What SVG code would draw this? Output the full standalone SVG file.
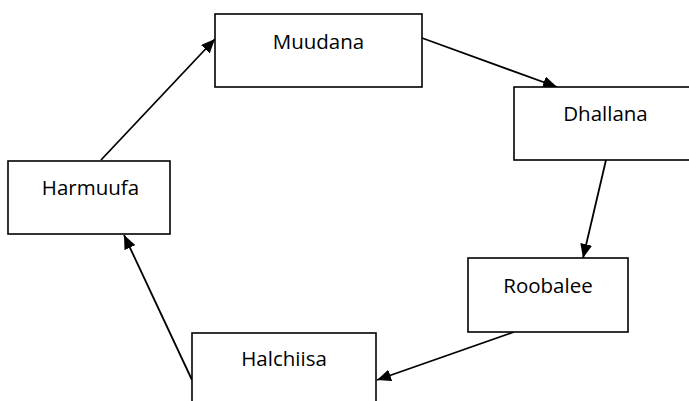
<svg xmlns="http://www.w3.org/2000/svg" width="689" height="401" viewBox="0 0 689 401">
  <style>
    .box { fill: #ffffff; stroke: #000000; stroke-width: 1.6; }
    .label { font-family: "Open Sans", "Noto Sans", sans-serif; font-size: 20.5px; fill: #000000; text-anchor: middle; }
    .edge { fill: none; stroke: #000000; stroke-width: 1.8; marker-end: url(#arrow); }
  </style>
  <defs>
    <marker id="arrow" markerUnits="userSpaceOnUse" markerWidth="15" markerHeight="12" refX="14" refY="6" orient="auto">
      <path d="M0,0 L14,6 L0,12 z" fill="#000000"/>
    </marker>
  </defs>
  <rect width="689" height="401" fill="#ffffff"/>

  <g id="connectors">
    <line class="edge" x1="101" y1="160" x2="215" y2="39"/>
    <line class="edge" x1="422" y1="38" x2="557" y2="87"/>
    <line class="edge" x1="606" y1="160" x2="583" y2="258"/>
    <line class="edge" x1="514" y1="332" x2="377" y2="380"/>
    <line class="edge" x1="192" y1="380" x2="124" y2="235"/>
  </g>

  <g id="muudana">
    <rect class="box" x="215" y="14" width="207" height="73"/>
    <text class="label" x="318.5" y="48.5">Muudana</text>
  </g>
  <g id="dhallana">
    <rect class="box" x="514" y="87" width="183" height="73"/>
    <text class="label" x="605.5" y="121">Dhallana</text>
  </g>
  <g id="roobalee">
    <rect class="box" x="468" y="258" width="160" height="74"/>
    <text class="label" x="548" y="293">Roobalee</text>
  </g>
  <g id="halchiisa">
    <rect class="box" x="192" y="333" width="184" height="80"/>
    <text class="label" x="284" y="366">Halchiisa</text>
  </g>
  <g id="harmuufa">
    <rect class="box" x="8" y="161" width="162" height="73"/>
    <text class="label" x="90.5" y="195">Harmuufa</text>
  </g>
</svg>
